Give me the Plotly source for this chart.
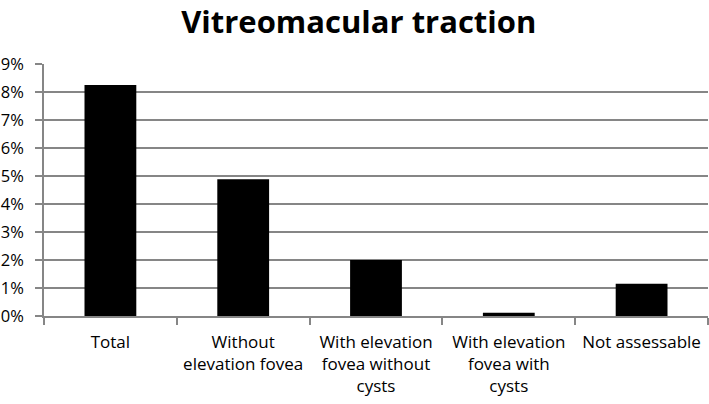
import plotly.graph_objects as go

categories = [
    "Total",
    "Without<br>elevation fovea",
    "With elevation<br>fovea without<br>cysts",
    "With elevation<br>fovea with<br>cysts",
    "Not assessable",
]
values = [8.25, 4.88, 2.0, 0.12, 1.15]  # percent
y_ticks = list(range(0, 10))
y_labels = [f"{v}%" for v in y_ticks]

fig = go.Figure()
fig.add_trace(
    go.Bar(
        x=categories,
        y=values,
        marker=dict(color="black", line=dict(width=0)),
        width=0.39,
    )
)

fig.update_layout(
    width=709,
    height=404,
    margin=dict(l=44, r=1, t=64, b=88),
    paper_bgcolor="white",
    plot_bgcolor="white",
    font=dict(family="Open Sans, sans-serif", size=17, color="black"),
    title=dict(
        text="<b>Vitreomacular traction</b>",
        x=0.506,
        xanchor="center",
        y=0.945,
        yanchor="middle",
        font=dict(size=31, family="Open Sans, sans-serif", color="black"),
    ),
    showlegend=False,
)

fig.update_xaxes(
    type="category",
    automargin=False,
    showline=True,
    linecolor="#868686",
    linewidth=1.5,
    ticks="outside",
    tickson="boundaries",
    ticklen=7,
    tickcolor="#868686",
    tickwidth=1.5,
    tickangle=0,
    ticklabelstandoff=10,
    showgrid=False,
    tickfont=dict(size=17),
)

fig.update_yaxes(
    range=[0, 9],
    automargin=False,
    tickvals=y_ticks,
    ticktext=y_labels,
    showline=True,
    linecolor="#868686",
    linewidth=1.5,
    ticks="outside",
    ticklen=7,
    tickcolor="#868686",
    tickwidth=1.5,
    ticklabelstandoff=8,
    showgrid=True,
    gridcolor="#868686",
    gridwidth=1.5,
    zeroline=False,
    tickfont=dict(size=16.5),
)

# drop the default 8px body margin so the figure fills the window
fig.write_html(
    "out.html",
    config={"displayModeBar": False},
    post_script="document.body.style.margin='0';document.body.style.overflow='hidden';",
)
